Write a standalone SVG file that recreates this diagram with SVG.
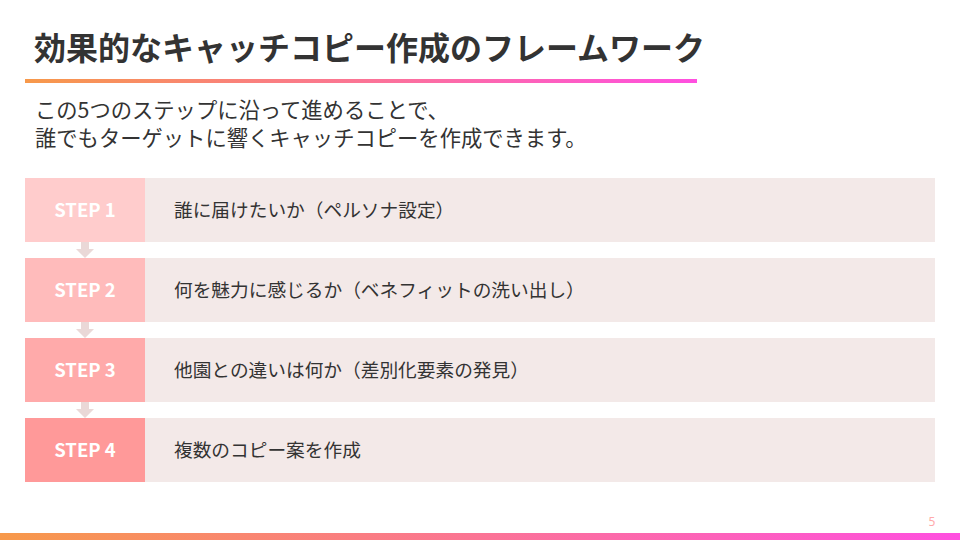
<svg xmlns="http://www.w3.org/2000/svg" width="960" height="540" viewBox="0 0 960 540">
<defs>
<linearGradient id="g" x1="0" y1="0" x2="1" y2="0">
<stop offset="0" stop-color="#f7994a"/>
<stop offset="1" stop-color="#ff4fe0"/>
</linearGradient>
<style>
text{font-family:"Noto Sans CJK JP","Noto Sans",sans-serif}
.title{font-size:32px;font-weight:700;fill:#333}
.sub{font-size:21.3px;fill:#333}
.lbl{font-size:18.5px;font-weight:700;fill:#fff}
.txt{font-size:18.7px;fill:#333}
.bg{fill:#f3e9e8}
.arr{fill:#ead8d7}
</style>
</defs>
<rect width="960" height="540" fill="#fff"/>
<text class="title" x="34" y="60">効果的なキャッチコピー作成のフレームワーク</text>
<rect x="25" y="79" width="672" height="4" fill="url(#g)"/>
<text class="sub" x="35" y="118">この5つのステップに沿って進めることで、</text>
<text class="sub" x="35" y="146">誰でもターゲットに響くキャッチコピーを作成できます。</text>
<g id="connectors">
<path class="arr" d="M81 242h8v7h5l-9 9l-9-9h5z"/>
<path class="arr" d="M81 322h8v7h5l-9 9l-9-9h5z"/>
<path class="arr" d="M81 402h8v7h5l-9 9l-9-9h5z"/>
</g>
<g id="step1">
<rect class="bg" x="25" y="178" width="910" height="64"/>
<rect x="25" y="178" width="120" height="64" fill="#ffcccc"/>
<text class="lbl" x="85" y="217" text-anchor="middle">STEP 1</text>
<text class="txt" x="174" y="217">誰に届けたいか（ペルソナ設定）</text>
</g>
<g id="step2">
<rect class="bg" x="25" y="258" width="910" height="64"/>
<rect x="25" y="258" width="120" height="64" fill="#ffbbbb"/>
<text class="lbl" x="85" y="297" text-anchor="middle">STEP 2</text>
<text class="txt" x="174" y="297">何を魅力に感じるか（ベネフィットの洗い出し）</text>
</g>
<g id="step3">
<rect class="bg" x="25" y="338" width="910" height="64"/>
<rect x="25" y="338" width="120" height="64" fill="#ffaaaa"/>
<text class="lbl" x="85" y="377" text-anchor="middle">STEP 3</text>
<text class="txt" x="174" y="377">他園との違いは何か（差別化要素の発見）</text>
</g>
<g id="step4">
<rect class="bg" x="25" y="418" width="910" height="64"/>
<rect x="25" y="418" width="120" height="64" fill="#ff9999"/>
<text class="lbl" x="85" y="457" text-anchor="middle">STEP 4</text>
<text class="txt" x="174" y="457">複数のコピー案を作成</text>
</g>
<text x="932" y="526" font-size="12" fill="#ffaaaa" text-anchor="middle" style="font-family:'Noto Sans',sans-serif">5</text>
<rect x="0" y="533" width="960" height="7" fill="url(#g)"/>
</svg>
